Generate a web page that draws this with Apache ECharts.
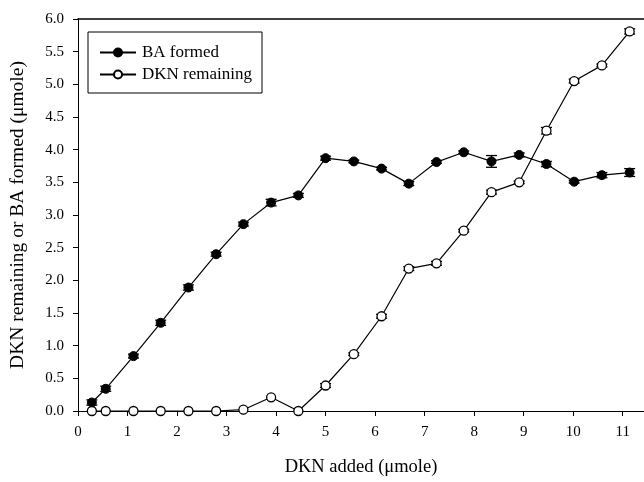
<!DOCTYPE html>
<html>
<head>
<meta charset="utf-8">
<script src="https://cdn.jsdelivr.net/npm/echarts@6/dist/echarts.min.js"></script>
<style>
  html, body { margin: 0; padding: 0; background: #fff; }
  #chart { width: 644px; height: 482px; }
</style>
</head>
<body>
<div id="chart"></div>
<script>
// DKN added (µmole) for each sample
const dknAdded = [0.28, 0.56, 1.12, 1.67, 2.23, 2.79, 3.34, 3.90, 4.45, 5.00, 5.57,
                  6.13, 6.68, 7.24, 7.79, 8.35, 8.91, 9.46, 10.02, 10.58, 11.14];
// BA formed (µmole) and its error
const baFormed = [0.13, 0.34, 0.84, 1.35, 1.89, 2.40, 2.86, 3.19, 3.30, 3.87, 3.82,
                  3.71, 3.48, 3.81, 3.96, 3.82, 3.92, 3.78, 3.51, 3.61, 3.65];
const baErr    = [0.04, 0.04, 0.03, 0.04, 0.04, 0.03, 0.03, 0.05, 0.03, 0.03, 0.02,
                  0.02, 0.03, 0.02, 0.02, 0.09, 0.03, 0.04, 0.02, 0.04, 0.06];
// DKN remaining (µmole) and its error
const dknRemaining = [0, 0, 0, 0, 0, 0, 0.02, 0.21, 0, 0.39, 0.87,
                      1.45, 2.18, 2.26, 2.76, 3.35, 3.50, 4.29, 5.05, 5.29, 5.81];
const dknErr       = [0, 0, 0, 0, 0, 0, 0, 0, 0, 0.03, 0.02,
                      0.03, 0.03, 0.03, 0.02, 0.03, 0.02, 0.05, 0.03, 0.02, 0.04];

const xTicks = [0, 1, 2, 3, 4, 5, 6, 7, 8, 9, 10, 11];
const yTicks = [0, 0.5, 1, 1.5, 2, 2.5, 3, 3.5, 4, 4.5, 5, 5.5, 6];

const FONT = '"Liberation Serif", "DejaVu Serif", serif';
const X_MAX = 11.43;

const chart = echarts.init(document.getElementById('chart'), null, { renderer: 'canvas' });

// Vertical error bars with caps, drawn beneath the symbols
function errorBars(xs, ys, es) {
  return {
    type: 'custom',
    xAxisIndex: 0,
    yAxisIndex: 0,
    z: 1,
    silent: true,
    data: xs.map((x, i) => [x, ys[i], es[i]]),
    renderItem: function (params, api) {
      const x = api.value(0), y = api.value(1), e = api.value(2);
      if (!e) return null;
      const top = api.coord([x, y + e]);
      const bot = api.coord([x, y - e]);
      const hw = 5.5;
      const style = { stroke: '#000', lineWidth: 1.3 };
      return {
        type: 'group',
        children: [
          { type: 'line', shape: { x1: top[0], y1: top[1], x2: bot[0], y2: bot[1] }, style },
          { type: 'line', shape: { x1: top[0] - hw, y1: top[1], x2: top[0] + hw, y2: top[1] }, style },
          { type: 'line', shape: { x1: bot[0] - hw, y1: bot[1], x2: bot[0] + hw, y2: bot[1] }, style }
        ]
      };
    }
  };
}

chart.setOption({
  backgroundColor: '#fff',
  animation: false,
  grid: { left: 78, right: 0, top: 19, bottom: 67, containLabel: false },
  legend: {
    left: 88,
    top: 32,
    orient: 'vertical',
    padding: [12, 10, 10, 11],
    itemGap: 5,
    itemWidth: 36,
    itemHeight: 10,
    borderColor: '#000',
    borderWidth: 1,
    textStyle: { fontFamily: FONT, fontSize: 17, color: '#000', padding: [0, 0, 0, 1] },
    data: ['BA formed', 'DKN remaining']
  },
  xAxis: [{
    type: 'value',
    min: 0,
    max: X_MAX,
    interval: 1,
    name: 'DKN added (\u03bcmole)',
    nameLocation: 'middle',
    nameGap: 47,
    nameTextStyle: { fontFamily: FONT, fontSize: 18.5, color: '#000' },
    splitLine: { show: false },
    axisLine: { onZero: false, lineStyle: { color: '#000', width: 1 } },
    axisTick: { show: true, length: 5, inside: false, lineStyle: { color: '#000' } },
    axisLabel: {
      fontFamily: FONT, fontSize: 15, color: '#000', margin: 14,
      showMaxLabel: false,
      formatter: v => (xTicks.indexOf(v) >= 0 ? String(v) : '')
    }
  }, {
    type: 'value',
    position: 'top',
    min: 0,
    max: X_MAX,
    axisLine: { show: true, onZero: false, lineStyle: { color: '#000', width: 1.6 } },
    axisTick: { show: false },
    axisLabel: { show: false },
    splitLine: { show: false }
  }],
  yAxis: {
    type: 'value',
    min: 0,
    max: 6,
    interval: 0.5,
    name: 'DKN remaining or BA formed (\u03bcmole)',
    nameLocation: 'middle',
    nameGap: 50,
    nameRotate: 90,
    nameTextStyle: { fontFamily: FONT, fontSize: 19.5, color: '#000' },
    splitLine: { show: false },
    axisLine: { show: true, lineStyle: { color: '#000', width: 1 } },
    axisTick: { show: true, length: 5, inside: false, lineStyle: { color: '#000' } },
    axisLabel: {
      fontFamily: FONT, fontSize: 15, color: '#000', margin: 14,
      formatter: v => (yTicks.indexOf(v) >= 0 ? v.toFixed(1) : '')
    }
  },
  series: [
    errorBars(dknAdded, baFormed, baErr),
    errorBars(dknAdded, dknRemaining, dknErr),
    {
      name: 'BA formed',
      type: 'line',
      z: 3,
      data: dknAdded.map((x, i) => [x, baFormed[i]]),
      symbol: 'circle',
      symbolSize: 9,
      lineStyle: { color: '#000', width: 1.2 },
      itemStyle: { color: '#000', borderColor: '#000', borderWidth: 1 }
    },
    {
      name: 'DKN remaining',
      type: 'line',
      z: 4,
      data: dknAdded.map((x, i) => [x, dknRemaining[i]]),
      symbol: 'circle',
      symbolSize: 9,
      lineStyle: { color: '#000', width: 1.2 },
      itemStyle: { color: '#fff', borderColor: '#000', borderWidth: 1.3 }
    }
  ]
});
</script>
</body>
</html>
